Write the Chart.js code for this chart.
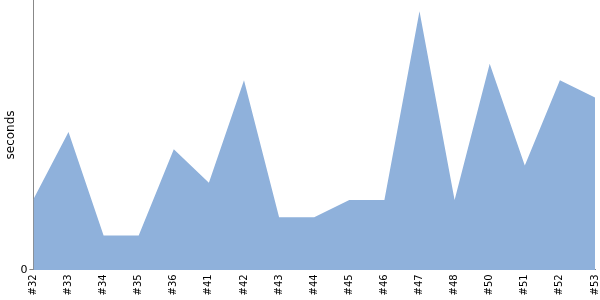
<!DOCTYPE html>
<html>
<head>
<meta charset="utf-8">
<script src="https://cdn.jsdelivr.net/npm/chart.js@4/dist/chart.umd.min.js"></script>
<style>
html,body{margin:0;padding:0;background:#fff;}
#wrap{width:600px;height:300px;position:relative;}
</style>
</head>
<body>
<div id="wrap"><canvas id="c"></canvas></div>
<script>
const categories = ["#32","#33","#34","#35","#36","#41","#42","#43","#44","#45","#46","#47","#48","#50","#51","#52","#53"];
const seconds = [4.1, 8.0, 2.0, 2.0, 7.0, 5.05, 11.0, 3.05, 3.05, 4.05, 4.05, 15.0, 4.05, 11.95, 6.05, 11.0, 10.0];
const yTicks = [0];
const yMax = 15.65;

Chart.defaults.font.family = "'DejaVu Sans', sans-serif";
Chart.defaults.color = "#000";

new Chart(document.getElementById('c'), {
  type: 'line',
  data: {
    labels: categories,
    datasets: [{
      data: seconds,
      fill: 'origin',
      backgroundColor: '#8fb1db',
      borderWidth: 0,
      borderColor: 'rgba(0,0,0,0)',
      pointRadius: 0,
      tension: 0
    }]
  },
  options: {
    responsive: true,
    maintainAspectRatio: false,
    animation: false,
    layout: { padding: { top: 0, right: 0, bottom: 0, left: 4 } },
    plugins: { legend: { display: false }, tooltip: { enabled: false } },
    scales: {
      x: {
        offset: false,
        afterFit: (s) => { s.paddingRight = 5; s.paddingLeft = 0; },
        grid: { display: false, drawTicks: false },
        border: { display: true, color: '#888', width: 1 },
        ticks: { maxRotation: 90, minRotation: 90, autoSkip: false, font: { size: 10 }, padding: 4.5 }
      },
      y: {
        min: 0,
        max: yMax,
        afterFit: (s) => { s.paddingTop = 0; s.paddingBottom = 0; },
        afterBuildTicks: (s) => { s.ticks = yTicks.map(v => ({ value: v })); },
        grid: { display: true, drawOnChartArea: false, drawTicks: true, tickLength: 4, color: '#888' },
        border: { display: true, color: '#888', width: 1 },
        ticks: { font: { size: 11 }, padding: 2 },
        title: { display: true, text: 'seconds', font: { size: 12 }, padding: 0 }
      }
    }
  }
});
</script>
</body>
</html>
